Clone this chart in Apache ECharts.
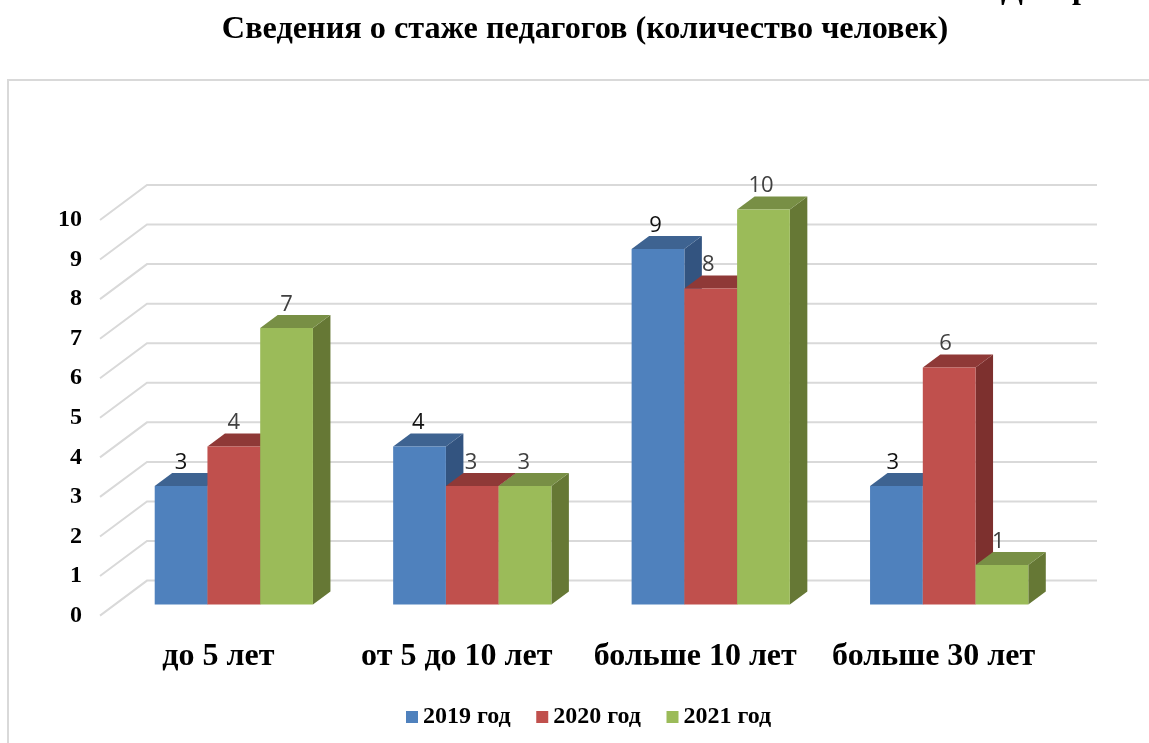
<!DOCTYPE html>
<html><head><meta charset="utf-8">
<style>html,body{margin:0;padding:0;background:#fff}#c{width:1149px;height:743px}</style>
<script src="https://cdn.jsdelivr.net/npm/echarts@6/dist/echarts.min.js"></script>
</head><body><div id="c"></div>
<script>
const categories = ['до 5 лет', 'от 5 до 10 лет', 'больше 10 лет', 'больше 30 лет'];
const seriesNames = ['2019 год', '2020 год', '2021 год'];
const values2019 = [3, 4, 9, 3];
const values2020 = [4, 3, 8, 6];
const values2021 = [7, 3, 10, 1];
const yTicks = [0, 1, 2, 3, 4, 5, 6, 7, 8, 9, 10];
const frontColors = ['#4F81BD', '#C0504D', '#9BBB59'];
const topColors = ['#3E6391', '#8F3937', '#788F45'];
const sideColors = ['#335480', '#7D302E', '#667835'];
const labelColors = ['#111111', '#404040', '#404040'];

const serif = '"Liberation Serif", serif';
const barShare = 0.2212, depthX = 17.5, depthY = 13;
const wallDX = 47, wallDY = 35;

function barSeries(name, values, idx) {
  return {
    type: 'custom', name, xAxisIndex: 1, yAxisIndex: 1, clip: false, z: 5 + idx,
    itemStyle: { color: frontColors[idx] },
    data: values.map((v, i) => [i, v]),
    encode: { x: 0, y: 1 },
    renderItem(params, api) {
      const v = api.value(1);
      const top = api.coord([api.value(0), v]);
      const base = api.coord([api.value(0), 0]);
      const w = api.size([1, 0])[0] * barShare;
      const x0 = top[0] + (idx - 1.5) * w, x1 = x0 + w;
      const yT = top[1], yB = base[1];
      return {
        type: 'group',
        children: [
          { type: 'polygon', shape: { points: [[x1, yT], [x1 + depthX, yT - depthY], [x1 + depthX, yB - depthY], [x1, yB]] }, style: { fill: sideColors[idx] } },
          { type: 'polygon', shape: { points: [[x0, yT], [x1, yT], [x1 + depthX, yT - depthY], [x0 + depthX, yT - depthY]] }, style: { fill: topColors[idx] } },
          { type: 'rect', shape: { x: x0, y: yT, width: w, height: yB - yT }, style: { fill: frontColors[idx] } },
          { type: 'text', style: { text: String(v), x: (x0 + x1) / 2 - api.value(0) * 1.2, y: yT - 23.5, align: 'center', verticalAlign: 'middle', fill: labelColors[idx], font: '22px "Open Sans", sans-serif' } }
        ]
      };
    }
  };
}

const chart = echarts.init(document.getElementById('c'), null, { renderer: 'canvas' });
chart.setOption({
  animation: false,
  color: frontColors,
  title: {
    text: 'Сведения о стаже педагогов (количество человек)',
    left: 580, top: 9, textAlign: 'center',
    textStyle: { fontFamily: serif, fontWeight: 'bold', fontSize: 32.25, color: '#000' }
  },
  legend: {
    data: seriesNames, left: 401, top: 700, itemWidth: 12, itemHeight: 12, itemGap: 25.5,
    icon: 'rect',
    textStyle: { fontFamily: serif, fontWeight: 'bold', fontSize: 24, color: '#000' }
  },
  grid: [
    { left: 100, right: 52, top: 220, height: 395.6 },
    { left: 114.6, right: 80.6, top: 209.5, height: 395 }
  ],
  xAxis: [
    { type: 'value', gridIndex: 0, min: 0, max: 1, show: false },
    { type: 'category', gridIndex: 1, data: categories, axisLine: { show: false }, axisTick: { show: false },
      axisLabel: { margin: 36, padding: [0, 31, 0, 0], interval: 0, fontFamily: serif, fontWeight: 'bold', fontSize: 32, color: '#000' } }
  ],
  yAxis: [
    { type: 'value', gridIndex: 0, min: 0, max: 10, interval: 1, splitLine: { show: false }, axisLine: { show: false }, axisTick: { show: false },
      axisLabel: { margin: 18, padding: [4, 0, 0, 0], fontFamily: serif, fontWeight: 'bold', fontSize: 24, color: '#000' } },
    { type: 'value', gridIndex: 1, min: 0, max: 10, interval: 1, show: false }
  ],
  graphic: [
    { type: 'rect', silent: true, z: -1, shape: { x: 8, y: 80, width: 1300, height: 800 }, style: { fill: 'none', stroke: '#d9d9d9', lineWidth: 2 } },
    { type: 'text', silent: true, x: 1001, y: 6, style: { text: 'Диаграмма', verticalAlign: 'bottom', fill: '#000', font: 'bold 32px "Liberation Serif", serif' } }
  ],
  series: [
    {
      type: 'custom', xAxisIndex: 0, yAxisIndex: 0, clip: false, z: 1, silent: true,
      data: yTicks.map(v => [0, v]), encode: { x: 0, y: 1 },
      renderItem(params, api) {
        const a = api.coord([0, api.value(1)]);
        const b = api.coord([1, api.value(1)]);
        return { type: 'polyline', shape: { points: [a, [a[0] + wallDX, a[1] - wallDY], [b[0], a[1] - wallDY]] }, style: { fill: 'none', stroke: '#d9d9d9', lineWidth: 2 } };
      }
    },
    barSeries(seriesNames[0], values2019, 0),
    barSeries(seriesNames[1], values2020, 1),
    barSeries(seriesNames[2], values2021, 2)
  ]
});
</script></body></html>
